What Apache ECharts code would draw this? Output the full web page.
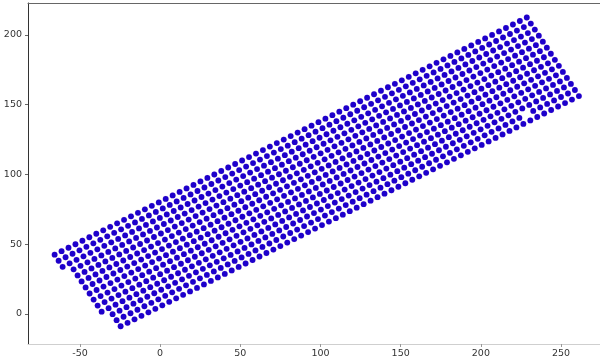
<!DOCTYPE html>
<html>
<head>
<meta charset="utf-8">
<script src="https://cdn.jsdelivr.net/npm/echarts@6/dist/echarts.min.js"></script>
<style>
  html, body { margin: 0; padding: 0; background: #fff; }
  #chart { width: 600px; height: 362px; }
</style>
</head>
<body>
<div id="chart"></div>
<script>
// lattice: top-left dot, spacing, tilt
var origin = [-65.8, 42.5];
var step = 5;
var angleDeg = 30;
// first / last column index of each of the 14 rows (top row first)
var rowStarts = [0, 0, 0, 1, 1, 1, 1, 1, 1, 1, 1, 2, 2, 2];
var rowEnds = [68, 68, 68, 68, 68, 68, 68, 68, 68, 68, 68, 68, 68, 68];
// [row, column] of the dot that is missing near the lower right
var missing = [[12, 61]];

var xTicks = [-50, 0, 50, 100, 150, 200, 250];
var yTicks = [0, 50, 100, 150, 200];
var xRange = [-82.4, 274.3];
var yRange = [-21.5, 222.9];

var a = angleDeg * Math.PI / 180;
var ux = step * Math.cos(a), uy = step * Math.sin(a);   // along a row
var vx = step * Math.sin(a), vy = -step * Math.cos(a);  // to next row
var points = [];
for (var j = 0; j < rowStarts.length; j++) {
  for (var i = rowStarts[j]; i <= rowEnds[j]; i++) {
    var skip = missing.some(function (m) { return m[0] === j && m[1] === i; });
    if (skip) continue;
    points.push([
      +(origin[0] + i * ux + j * vx).toFixed(2),
      +(origin[1] + i * uy + j * vy).toFixed(2)
    ]);
  }
}

var chart = echarts.init(document.getElementById('chart'));
var labelStyle = { color: '#333', fontSize: 9.5, fontFamily: 'DejaVu Sans' };
chart.setOption({
  animation: false,
  grid: { left: 28, top: 3, right: 0, bottom: 18 },
  xAxis: [{
    type: 'value',
    min: xRange[0], max: xRange[1],
    splitLine: { show: false },
    axisLine: { show: true, onZero: false, lineStyle: { color: '#cfcfcf', width: 1 } },
    axisTick: { show: true, length: 3, customValues: xTicks, lineStyle: { color: '#999' } },
    axisLabel: Object.assign({ customValues: xTicks, margin: 5 }, labelStyle)
  }, {
    type: 'value',
    position: 'top',
    min: xRange[0], max: xRange[1],
    splitLine: { show: false },
    axisLine: { show: true, onZero: false, lineStyle: { color: '#666', width: 1 } },
    axisTick: { show: false },
    axisLabel: { show: false }
  }],
  yAxis: {
    type: 'value',
    min: yRange[0], max: yRange[1],
    splitLine: { show: false },
    axisLine: { show: true, onZero: false, lineStyle: { color: '#333', width: 1 } },
    axisTick: { show: true, length: 3, customValues: yTicks, lineStyle: { color: '#666' } },
    axisLabel: Object.assign({ customValues: yTicks, margin: 6 }, labelStyle)
  },
  series: [{
    type: 'scatter',
    data: points,
    symbolSize: 5.8,
    itemStyle: {
      color: '#1c00cc',
      borderColor: 'rgba(110,0,170,0.35)',
      borderWidth: 0.3,
      opacity: 1
    }
  }]
});
</script>
</body>
</html>
